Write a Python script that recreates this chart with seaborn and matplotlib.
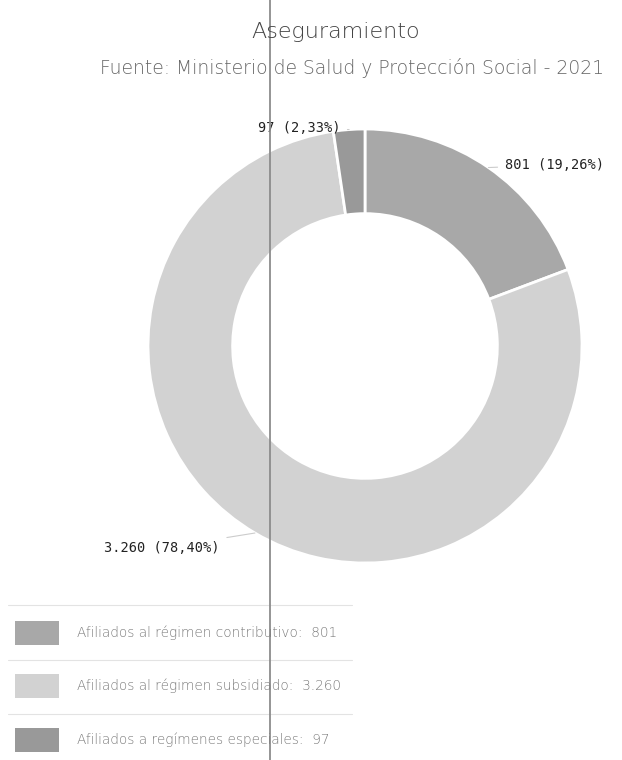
import matplotlib
matplotlib.use("Agg")
import matplotlib.pyplot as plt
import seaborn as sns
from matplotlib.patches import Rectangle
from matplotlib.lines import Line2D
import numpy as np

categories = ["Afiliados al régimen contributivo", "Afiliados al régimen subsidiado", "Afiliados a regímenes especiales"]
values = [801, 3260, 97]
value_labels = ["801", "3.260", "97"]
pct_labels = ["19,26%", "78,40%", "2,33%"]
colors = ["#a8a8a8", "#d2d2d2", "#999999"]
title = "Aseguramiento"
subtitle = "Fuente: Ministerio de Salud y Protección Social - 2021"

sns.set_theme(style="white")
plt.rcParams['font.family'] = ['DejaVu Sans']

W, H = 622, 760
fig = plt.figure(figsize=(W/100, H/100), dpi=100)
fig.patch.set_facecolor("white")

cx, cy, R = 365, 346, 217
ax = fig.add_axes([(cx-R)/W, (H-cy-R)/H, 2*R/W, 2*R/H])
wedges, _ = ax.pie(values, colors=colors, startangle=90, counterclock=False,
                   radius=1.0, wedgeprops=dict(width=0.39, edgecolor="white", linewidth=2))
ax.set_xlim(-1, 1); ax.set_ylim(-1, 1)
ax.set_aspect("equal")
ax.axis("off")

# label text positions (figure pixels, layout)
label_pos = [(505, 165, "left"), (104, 548, "left"), (340, 128, "right")]
for w, v, p, (lx, ly, ha) in zip(wedges, value_labels, pct_labels, label_pos):
    ang = np.deg2rad((w.theta1 + w.theta2) / 2)
    x, y = np.cos(ang), np.sin(ang)
    ax.annotate(f"{v} ({p})", xy=(x*1.0, y*1.0), xycoords="data",
                xytext=(lx/W, 1-ly/H), textcoords="figure fraction",
                ha=ha, va="center", fontsize=9.8, color="#222222",
                family="DejaVu Sans Mono",
                arrowprops=dict(arrowstyle="-", color="#cccccc", lw=0.8,
                                shrinkA=3, shrinkB=0))

fig.text(336/W, 1-32/H, title, ha="center", va="center", fontsize=16,
         color="#444444", fontweight="light", family="DejaVu Sans")
fig.text(352/W, 1-68/H, subtitle, ha="center", va="center", fontsize=13.5,
         color="#666666", fontweight="light", family="DejaVu Sans")

# legend
lax = fig.add_axes([0, 0, 1, 1], facecolor="none")
lax.set_xlim(0, W); lax.set_ylim(H, 0)
lax.axis("off")
row_y = [633, 686, 740]
sep_y = [605, 660, 714]
for sy in sep_y:
    lax.add_line(Line2D([8, 352], [sy, sy], color="#e3e3e3", lw=0.8))
for c, cat, v, ry in zip(colors, categories, value_labels, row_y):
    lax.add_patch(Rectangle((15, ry-12), 44, 24, facecolor=c, edgecolor="none"))
    lax.text(77, ry, f"{cat}:  {v}", ha="left", va="center", fontsize=9.8,
             color="#7a7a7a", fontweight="light")

# scan artifact vertical line
lax.add_line(Line2D([270, 270], [0, H], color="#8c8c8c", lw=1.3))

fig.savefig("out.png", dpi=100, facecolor="white")
